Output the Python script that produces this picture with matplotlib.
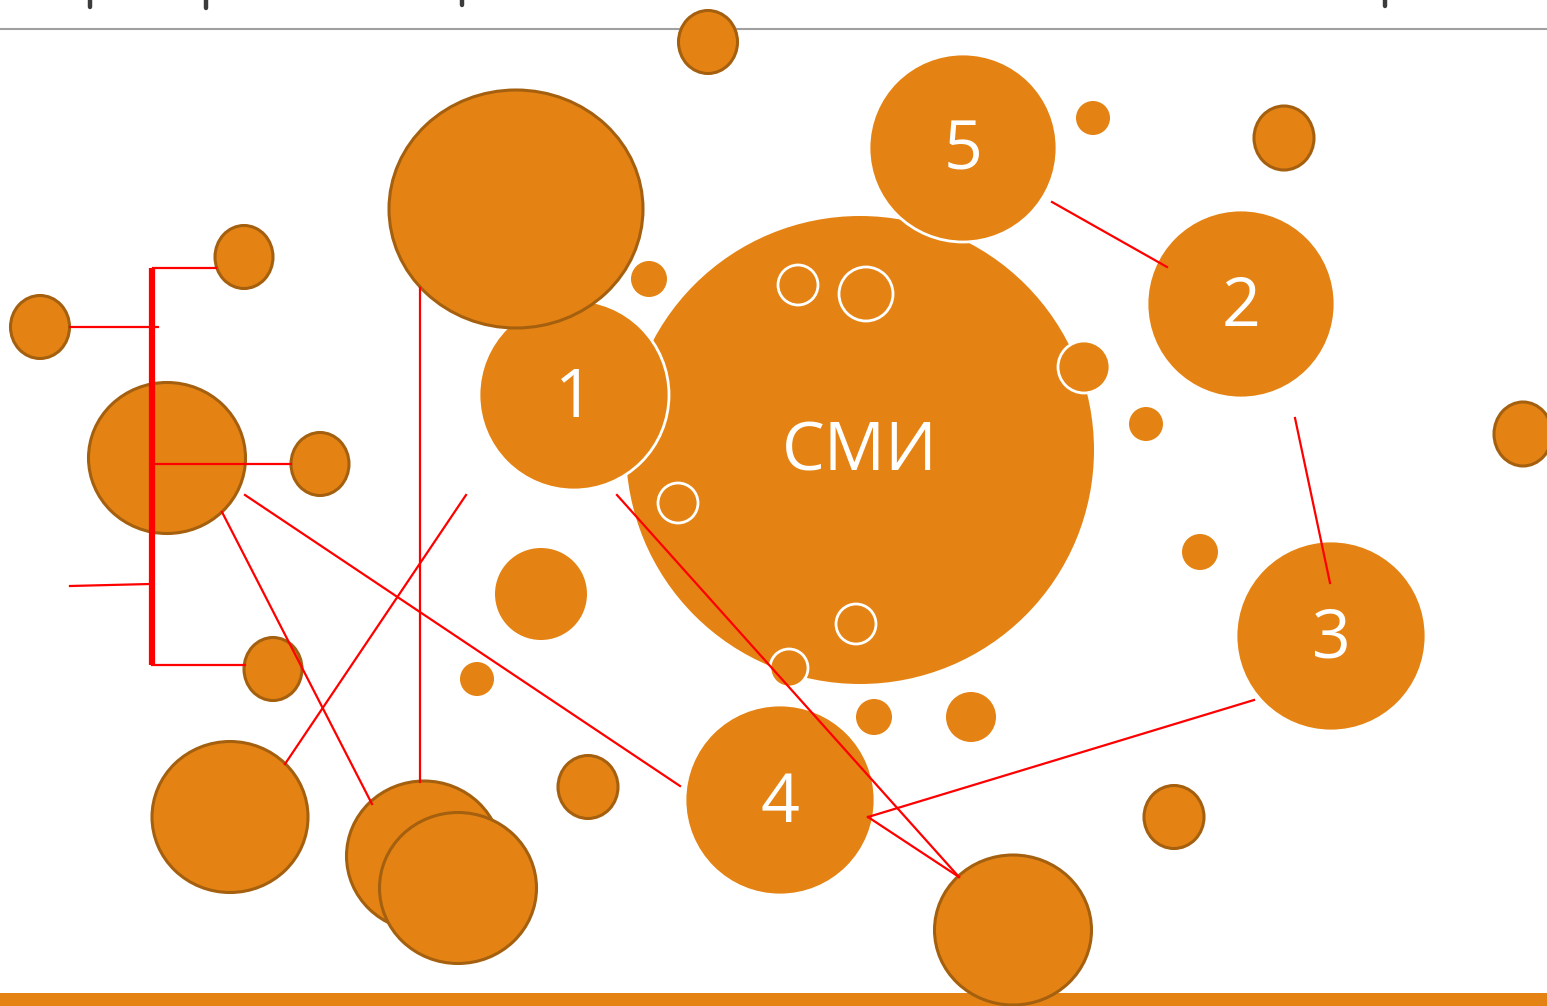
import matplotlib
matplotlib.use('Agg')
import matplotlib.pyplot as plt
from matplotlib.patches import Circle, Ellipse, Rectangle

W, H = 1547, 1006
ORANGE = '#E48313'
BROWN = '#A5600F'
RED = '#FF0000'

############## Data (slide pixel coordinates)

# central circle
HUB_LABEL = 'СМИ'
HUB_X, HUB_Y, HUB_R = 860, 450, 234

# numbered circles
NUM_LABELS = ['1', '2', '3', '4', '5']
NUM_X = [574, 1241, 1331, 780, 963]
NUM_Y = [395, 304, 636, 800, 148]
NUM_R = [95, 94, 95, 95, 94]

# plain small circles
PLAIN_X = [649, 1093, 1146, 1200, 541, 477, 874, 971]
PLAIN_Y = [279, 118, 424, 552, 594, 679, 717, 717]
PLAIN_R = [18, 17, 17, 18, 46, 17, 18, 25]

# circles with a white ring
RING_X = [798, 866, 678, 856, 1084, 789]
RING_Y = [285, 294, 503, 624, 367, 668]
RING_R = [20, 27, 20, 20, 26, 19]

# outlined ellipses
OUT_X = [244, 40, 167, 320, 273, 516, 708, 230, 424, 458, 588, 1013, 1174, 1284, 1523]
OUT_Y = [257, 327, 458, 464, 669, 209, 42, 817, 856, 888, 787, 930, 817, 138, 434]
OUT_W = [58, 59, 157, 58, 58, 254, 59, 156, 155, 157, 60, 157, 60, 60, 58]
OUT_H = [63, 63, 151, 63, 63, 238, 63, 151, 150, 151, 63, 150, 63, 64, 64]

# red connectors
LINK_X0 = [420, 222, 285, 245, 617, 868, 868, 1052, 1295]
LINK_Y0 = [288, 512, 764, 495, 495, 817, 817, 202, 418]
LINK_X1 = [420, 372, 466, 680, 959, 959, 1254, 1167, 1330]
LINK_Y1 = [782, 804, 495, 786, 877, 877, 700, 267, 583]

# bracket on the left
BRACKET_X = 152
BRACKET_TOP, BRACKET_BOTTOM = 268, 665
ARM_X0 = [153, 70, 155, 70, 152]
ARM_Y0 = [268, 327, 464, 586, 665]
ARM_X1 = [216, 158, 291, 150, 245]
ARM_Y1 = [268, 327, 464, 584, 665]

# header ticks
TICK_X = [90, 206, 462, 1385]
TICK_LEN = [7, 8, 5, 6]

##############

fig = plt.figure(figsize=(W / 100, H / 100), dpi=100)
ax = fig.add_axes([0, 0, 1, 1])
ax.set_xlim(0, W)
ax.set_ylim(H, 0)
ax.axis('off')

# frame pieces
ax.add_patch(Rectangle((0, 993), W, 13, color=ORANGE, lw=0, zorder=1))
ax.plot([0, W], [29, 29], color='#A0A0A0', lw=1.5, zorder=1)
for x, ln in zip(TICK_X, TICK_LEN):
    ax.plot([x, x], [0, ln], color='#3C3C3C', lw=3.2,
            solid_capstyle='round', zorder=1)

ax.add_patch(Circle((HUB_X, HUB_Y), HUB_R, fc=ORANGE, ec='none', zorder=2))

for x, y, r in zip(RING_X, RING_Y, RING_R):
    ax.add_patch(Circle((x, y), r, fc=ORANGE, ec='white', lw=2, zorder=3))

for x, y, r in zip(PLAIN_X, PLAIN_Y, PLAIN_R):
    ax.add_patch(Circle((x, y), r, fc=ORANGE, ec='none', zorder=3))

for x, y, r in zip(NUM_X, NUM_Y, NUM_R):
    ax.add_patch(Circle((x, y), r, fc=ORANGE, ec='white', lw=2, zorder=3))

for i, (x, y, w, h) in enumerate(zip(OUT_X, OUT_Y, OUT_W, OUT_H)):
    ax.add_patch(Ellipse((x, y), w, h, fc=ORANGE, ec=BROWN, lw=2.2,
                         zorder=4 + i * 0.01))

for x0, y0, x1, y1 in zip(LINK_X0, LINK_Y0, LINK_X1, LINK_Y1):
    ax.plot([x0, x1], [y0, y1], color=RED, lw=1.6, zorder=5)

ax.plot([BRACKET_X, BRACKET_X], [BRACKET_TOP, BRACKET_BOTTOM],
        color=RED, lw=4.5, solid_capstyle='butt', zorder=5)
for x0, y0, x1, y1 in zip(ARM_X0, ARM_Y0, ARM_X1, ARM_Y1):
    ax.plot([x0, x1], [y0, y1], color=RED, lw=1.6, zorder=5)

font = dict(family=['Open Sans', 'DejaVu Sans'], color='white',
            ha='center', va='center', zorder=6)
ax.text(HUB_X, HUB_Y + 3, HUB_LABEL, fontsize=49, **font)
for label, x, y in zip(NUM_LABELS, NUM_X, NUM_Y):
    ax.text(x, y + 4, label, fontsize=49, **font)

fig.savefig('out.png', dpi=100)
